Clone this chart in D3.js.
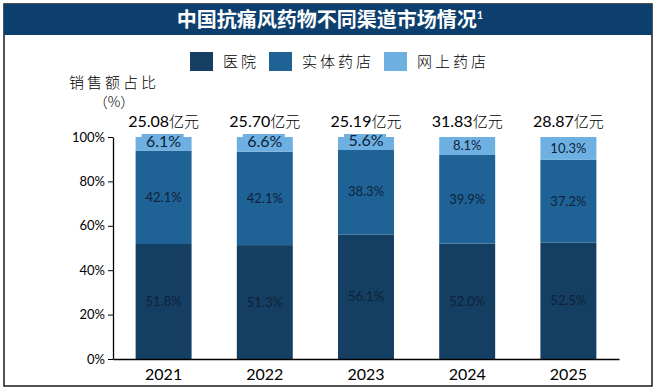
<!DOCTYPE html>
<html><head><meta charset="utf-8">
<script src="https://cdn.jsdelivr.net/npm/d3@7"></script>
<style>
html,body{margin:0;padding:0;background:#fff;}
svg{display:block;}
</style></head>
<body>
<svg id="c" width="659" height="390"></svg>
<script>
const years = ["2021","2022","2023","2024","2025"];
const hospital = [51.8, 51.3, 56.1, 52.0, 52.5];
const retail = [42.1, 42.1, 38.3, 39.9, 37.2];
const online = [6.1, 6.6, 5.6, 8.1, 10.3];
const totals = ["25.08", "25.70", "25.19", "31.83", "28.87"];
const seriesNames = ["医院", "实体药店", "网上药店"];
const yTicks = [0, 20, 40, 60, 80, 100];
const colors = ["#143f63", "#1e6296", "#6db0e1"];

const svg = d3.select("#c");
const numFont = "Lato, 'Liberation Sans', sans-serif";
const cjkFont = "'Noto Sans CJK SC', sans-serif";

// frame
svg.append("rect").attr("x",4).attr("y",4).attr("width",648).attr("height",382)
  .attr("fill","#fff").attr("stroke","#1a1a1a").attr("stroke-width",1.5);
svg.append("rect").attr("x",4).attr("y",4).attr("width",648).attr("height",31).attr("fill","#0d3f6e");
const t = svg.append("text").attr("x",330).attr("y",27).attr("text-anchor","middle")
  .attr("fill","#fff").attr("font-family",cjkFont).attr("font-weight","bold").attr("font-size",20);
t.append("tspan").text("中国抗痛风药物不同渠道市场情况");
t.append("tspan").attr("font-size",11).attr("dy",-8).attr("font-family",numFont).text("1");

const margin = {left:113, right:619, top:137, bottom:359};
const x = d3.scaleBand().domain(years).range([margin.left, margin.right]).paddingInner(0.447).paddingOuter(0.2235);
const y = d3.scaleLinear().domain([0,100]).range([margin.bottom, margin.top]);

const data = years.map((yr,i)=>({year:yr, 医院:hospital[i], 实体药店:retail[i], 网上药店:online[i]}));
const stack = d3.stack().keys(seriesNames)(data);

const g = svg.append("g");
stack.forEach((s,si)=>{
  g.selectAll(null).data(s).enter().append("rect")
    .attr("x", d=>x(d.data.year)).attr("width", x.bandwidth())
    .attr("y", d=>y(d[1])).attr("height", d=>y(d[0])-y(d[1]))
    .attr("fill", colors[si]);
});

// axes
const yAxis = d3.axisLeft(y).tickValues(yTicks).tickFormat(d=>d+"%").tickSize(5).tickSizeOuter(0);
const ya = svg.append("g").attr("transform",`translate(${margin.left},0)`).call(yAxis);
ya.select(".domain").attr("stroke","#000").attr("stroke-width",1.3);
ya.selectAll(".tick line").attr("stroke","#000");
ya.selectAll(".tick text").attr("font-family",numFont).attr("font-weight",400).attr("font-size",13).attr("fill","#000").attr("x",-8);

const xAxis = d3.axisBottom(x).tickSize(0).tickSizeOuter(0);
const xa = svg.append("g").attr("transform",`translate(0,${margin.bottom})`).call(xAxis);
xa.select(".domain").attr("stroke","#000").attr("stroke-width",1.3);
xa.selectAll(".tick text").attr("font-family",numFont).attr("font-weight",400).attr("font-size",16).attr("fill","#000").attr("dy","1.15em");

// segment labels
stack.forEach((s,si)=>{
  s.forEach((d,i)=>{
    const cx = x(d.data.year) + x.bandwidth()/2;
    const cy = (y(d[0])+y(d[1]))/2;
    const val = d[1]-d[0];
    const big = si===2 && i<3;
    if (big) {
      svg.append("rect").attr("x", x(d.data.year)+6).attr("width", x.bandwidth()-14)
        .attr("y", y(100)-3).attr("height", 16).attr("fill", colors[2]);
    }
    svg.append("text").attr("x",cx).attr("y", big ? cy+3 : cy+4.5).attr("text-anchor","middle")
      .attr("font-family",numFont).attr("font-weight",400).attr("font-size", big?16:13).attr("fill","#0f2238")
      .text(val.toFixed(1)+"%");
  });
});

// totals
years.forEach((yr,i)=>{
  const tt = svg.append("text").attr("x", x(yr)+x.bandwidth()/2).attr("y",127).attr("text-anchor","middle")
    .attr("font-size",16).attr("fill","#000");
  tt.append("tspan").attr("font-family",numFont).attr("font-weight",400).text(totals[i]);
  tt.append("tspan").attr("font-family",cjkFont).attr("font-size",15).attr("font-weight",300).text("亿元");
});

// y label
svg.append("text").attr("x",114).attr("y",88).attr("text-anchor","middle")
  .attr("font-family",cjkFont).attr("font-size",15).attr("letter-spacing",3).attr("font-weight",300).attr("fill","#000").text("销售额占比");
svg.append("text").attr("x",114).attr("y",107).attr("text-anchor","middle")
  .attr("font-family",cjkFont).attr("font-size",14).attr("font-weight",300).attr("fill","#000").text("（%）");

// legend
const legX = [190, 269, 384];
seriesNames.forEach((n,i)=>{
  svg.append("rect").attr("x",legX[i]).attr("y",52).attr("width",23).attr("height",19).attr("fill",colors[i]);
  svg.append("text").attr("x",legX[i]+33).attr("y",67).attr("font-family",cjkFont).attr("font-size",15)
    .attr("font-weight",300).attr("letter-spacing",3).attr("fill","#000").text(n);
});
</script>
</body></html>
